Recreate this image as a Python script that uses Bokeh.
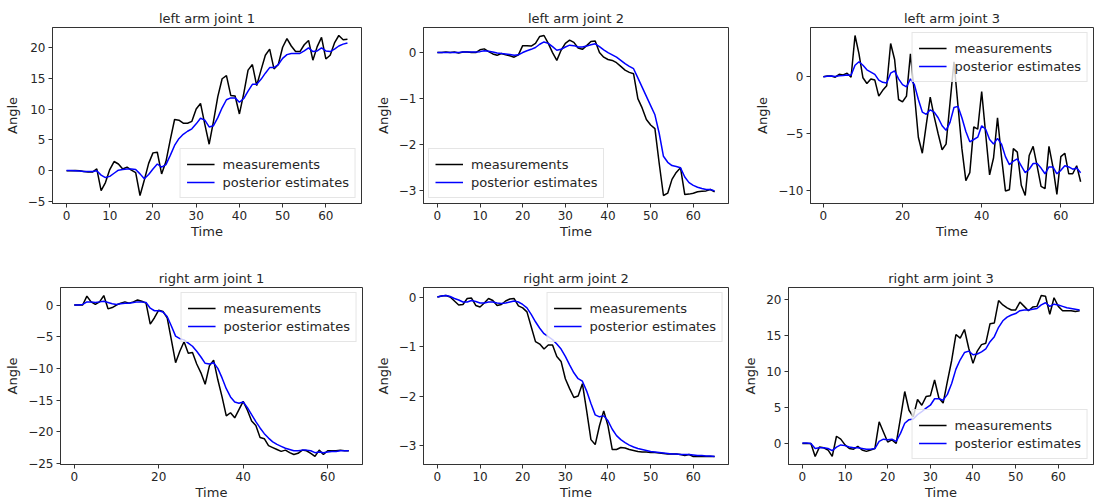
from bokeh.plotting import figure
from bokeh.layouts import column, row
from bokeh.models import Range1d, FixedTicker
from bokeh.embed import file_html
from bokeh.resources import INLINE

time = list(range(66))

titles = ["left arm joint 1", "left arm joint 2", "left arm joint 3",
          "right arm joint 1", "right arm joint 2", "right arm joint 3"]
series_labels = ["measurements", "posterior estimates"]
x_label = "Time"
y_label = "Angle"

la1_meas = [0, 0, 0.05, 0, -0.1, -0.2, -0.2, 0.3, -3.2, -1.9,
            0.2, 1.5, 1.1, 0.3, 0.6, 0.1, -0.3, -4.0, -1.5, 1.2,
            2.9, 3.0, -0.5, 1.5, 5.0, 8.3, 8.2, 7.7, 7.7, 8.0,
            10.0, 10.9, 7.5, 4.3, 8.0, 12.0, 14.9, 15.4, 12.2, 12.1,
            9.2, 12.5, 16.3, 17.2, 13.8, 16.3, 18.7, 19.7, 16.5, 17.2,
            20.0, 21.4, 20.2, 19.3, 19.3, 20.4, 21.1, 17.9, 20.1, 21.6,
            18.1, 18.7, 20.7, 21.9, 21.2, 21.3]
la1_post = [0.05, 0.05, 0, -0.05, -0.1, -0.1, -0.1, 0, -0.7, -1.1,
            -0.9, -0.4, 0.1, 0.2, 0.3, 0.3, 0.2, -0.5, -1.3, -0.6,
            0.3, 1.1, 0.6, 1.0, 2.5, 4.1, 5.2, 5.9, 6.4, 6.8,
            7.6, 8.5, 8.2, 7.1, 7.3, 8.6, 10.2, 11.5, 11.8, 11.8,
            11.1, 11.7, 12.9, 14.0, 14.0, 14.8, 15.8, 16.7, 16.7, 17.2,
            18.2, 18.8, 19.0, 19.0, 19.0, 19.4, 19.9, 19.3, 19.4, 19.9,
            19.4, 19.3, 19.7, 20.2, 20.5, 20.7]

la2_meas = [0, 0, 0.01, 0, 0.01, -0.01, 0.01, 0.01, 0, 0,
            0.06, 0.08, 0.02, -0.03, -0.06, -0.02, -0.05, -0.07, -0.1, -0.05,
            0.15, 0.15, 0.14, 0.2, 0.35, 0.37, 0.2, 0.0, -0.17, 0.05,
            0.2, 0.27, 0.22, 0.1, 0.07, 0.15, 0.24, 0.25, 0.0, -0.1,
            -0.15, -0.17, -0.22, -0.3, -0.38, -0.43, -0.46, -1.0, -1.2, -1.45,
            -1.57, -1.65, -2.4, -3.1, -3.05, -2.75, -2.6, -2.5, -3.08, -3.07,
            -3.05, -3.02, -3.01, -3.0, -2.97, -3.02]
la2_post = [0, 0, 0, 0, 0, 0, 0.01, 0.01, 0.01, 0.01,
            0.02, 0.04, 0.03, 0.01, -0.01, -0.02, -0.03, -0.04, -0.06, -0.05,
            0.0, 0.04, 0.07, 0.11, 0.18, 0.23, 0.2, 0.13, 0.05, 0.07,
            0.12, 0.16, 0.15, 0.12, 0.12, 0.14, 0.17, 0.19, 0.13, 0.06,
            0.0, -0.05, -0.1, -0.17, -0.24, -0.3, -0.35, -0.55, -0.75, -0.95,
            -1.15, -1.35, -1.75, -2.25, -2.38, -2.45, -2.47, -2.5, -2.7, -2.82,
            -2.88, -2.92, -2.95, -2.97, -2.97, -3.0]

la3_meas = [0, 0.05, 0.05, -0.05, 0.2, 0.15, 0.3, -0.05, 3.6, 2.0,
            -0.1, -0.6, -0.2, -0.3, -1.7, -1.2, -0.8, 2.9, 1.5, -2.0,
            -2.2, -1.7, 2.0, -1.5, -5.3, -6.7, -4.2, -1.8, -3.5, -5.0,
            -6.4, -5.9, -2.3, 1.3, -2.5, -6.3, -9.1, -8.4, -4.4, -4.6,
            -1.3, -5.0, -8.6, -7.1, -3.6, -7.0, -10.0, -9.9, -6.3, -6.6,
            -9.5, -10.4, -6.9, -6.1, -7.8, -9.6, -9.8, -6.1, -7.9, -10.3,
            -7.0, -6.7, -8.5, -8.5, -7.8, -9.2]
la3_post = [0, 0.03, 0.05, 0.02, 0.07, 0.1, 0.15, 0.12, 1.0, 1.3,
            1.0, 0.6, 0.4, 0.2, -0.3, -0.5, -0.55, 0.3, 0.5, -0.2,
            -0.7, -0.9, -0.2, -0.7, -2.0, -3.1, -3.3, -2.9, -3.1, -3.6,
            -4.3, -4.7, -4.0, -2.7, -2.6, -3.6, -4.8, -5.7, -5.5, -5.3,
            -4.3, -4.6, -5.5, -5.9, -5.4, -5.9, -7.0, -7.7, -7.4, -7.2,
            -7.8, -8.4, -8.1, -7.6, -7.6, -8.0, -8.5, -7.9, -7.9, -8.5,
            -8.2, -7.8, -7.9, -8.1, -8.0, -8.4]

ra1_meas = [0, 0, 0, 1.4, 0.5, 0.1, 0.5, 1.5, -0.6, -0.4,
            0.0, 0.3, 0.5, 0.3, 0.5, 0.8, 0.6, 0.3, -3.0, -2.0,
            -0.8, -1.0, -2.0, -5.5, -9.1, -7.3, -5.8, -7.6, -7.5, -9.3,
            -10.7, -12.5, -9.6, -8.7, -11.8, -14.5, -17.5, -17.0, -17.8, -16.5,
            -15.2, -16.6, -18.3, -19.0, -20.9, -21.1, -22.2, -22.5, -22.8, -23.1,
            -22.9, -23.3, -23.6, -23.4, -22.9, -23.0, -23.4, -23.9, -22.9, -23.6,
            -23.0, -23.0, -23.0, -22.9, -23.0, -23.0]
ra1_post = [0, 0, 0.1, 0.5, 0.5, 0.4, 0.5, 0.6, 0.4, 0.2,
            0.1, 0.2, 0.3, 0.3, 0.4, 0.5, 0.5, 0.4, -0.5, -0.9,
            -0.9, -1.1, -1.8, -3.3, -4.9, -5.3, -5.5, -6.0, -6.5, -7.3,
            -8.2, -9.2, -9.3, -9.1, -10.0, -11.5, -13.2, -14.5, -15.3, -15.5,
            -15.3, -16.2, -17.3, -18.4, -19.4, -20.3, -21.0, -21.6, -22.0, -22.3,
            -22.6, -22.8, -23.0, -23.0, -22.9, -22.9, -23.0, -23.3, -23.2, -23.3,
            -23.2, -23.1, -23.1, -23.0, -23.0, -23.0]

ra2_meas = [0, 0.02, 0.03, 0.0, -0.08, -0.16, -0.15, -0.03, -0.02, -0.17,
            -0.2, -0.12, -0.03, -0.07, -0.17, -0.15, -0.08, -0.04, -0.03, -0.18,
            -0.22, -0.3, -0.6, -0.9, -0.95, -1.05, -0.97, -0.97, -1.2, -1.3,
            -1.65, -1.85, -2.03, -2.0, -1.75, -2.3, -2.88, -2.98, -2.6, -2.3,
            -2.6, -3.08, -3.08, -3.04, -3.05, -3.08, -3.1, -3.12, -3.13, -3.13,
            -3.14, -3.14, -3.15, -3.16, -3.17, -3.17, -3.17, -3.18, -3.2, -3.18,
            -3.22, -3.22, -3.22, -3.22, -3.22, -3.22]
ra2_post = [0, 0.02, 0.03, 0.01, -0.03, -0.06, -0.1, -0.1, -0.07, -0.09,
            -0.12, -0.12, -0.1, -0.1, -0.12, -0.13, -0.12, -0.1, -0.08, -0.1,
            -0.15, -0.22, -0.35, -0.5, -0.63, -0.74, -0.8, -0.86, -0.95, -1.05,
            -1.2, -1.37, -1.53, -1.65, -1.7, -1.9, -2.15, -2.38, -2.42, -2.4,
            -2.5, -2.67, -2.8, -2.88, -2.94, -2.99, -3.03, -3.06, -3.08, -3.1,
            -3.12, -3.13, -3.14, -3.15, -3.16, -3.17, -3.17, -3.18, -3.18, -3.18,
            -3.19, -3.2, -3.2, -3.21, -3.21, -3.22]

ra3_meas = [0, 0, 0, -1.8, -0.5, -0.6, -0.9, -1.8, 1.0, 0.6,
            -0.2, -0.7, -0.8, -0.4, -0.9, -1.1, -0.9, -0.7, 3.0, 1.6,
            0.2, 0.5, 0.0, 3.5, 7.2, 4.6, 3.7, 6.1, 5.3, 6.5,
            6.6, 8.8, 6.3, 5.6, 8.6, 11.5, 15.1, 14.6, 15.8, 13.2,
            11.1, 12.8, 13.7, 13.9, 16.6, 16.7, 19.8, 19.2, 18.8, 18.5,
            18.5, 19.6, 19.0, 18.4, 18.9, 19.0, 20.5, 20.4, 17.9, 20.2,
            19.0, 18.4, 18.4, 18.4, 18.3, 18.4]
ra3_post = [0.05, 0.05, 0, -0.7, -0.6, -0.6, -0.7, -1.0, -0.5, -0.2,
            -0.3, -0.5, -0.6, -0.6, -0.7, -0.8, -0.8, -0.7, 0.3, 0.6,
            0.5, 0.6, 0.3, 1.4, 2.8, 3.3, 3.4, 4.0, 4.4, 4.9,
            5.3, 6.2, 6.2, 6.0, 6.8, 8.3, 10.3, 11.6, 12.6, 12.8,
            12.3, 12.4, 12.7, 13.1, 14.1, 14.8, 16.1, 17.0, 17.5, 17.8,
            18.0, 18.4, 18.5, 18.5, 18.6, 18.7, 19.2, 19.5, 19.0, 19.3,
            19.2, 19.0, 18.8, 18.7, 18.6, 18.5]

x_ticks_10 = [0, 10, 20, 30, 40, 50, 60]
x_ticks_20 = [0, 20, 40, 60]
y_ticks_la1 = [-5, 0, 5, 10, 15, 20]
y_ticks_la2 = [-3, -2, -1, 0]
y_ticks_la3 = [-10, -5, 0]
y_ticks_ra1 = [-25, -20, -15, -10, -5, 0]
y_ticks_ra2 = [-3, -2, -1, 0]
y_ticks_ra3 = [0, 5, 10, 15, 20]

FONT = "DejaVu Sans"
TXT = "#262626"


def pad_range(values):
    lo, hi = min(values), max(values)
    span = hi - lo
    return Range1d(lo - 0.05 * span, hi + 0.05 * span)


def tick_text(v):
    return ("\u2212" + str(abs(v))) if v < 0 else str(v)


def make_plot(title, meas, post, xt, yt, loc, w, h, bl, br, bt, bb):
    p = figure(width=w, height=h, output_backend="svg", toolbar_location=None,
               x_range=pad_range(time), y_range=pad_range(meas + post),
               min_border_left=bl, min_border_right=br,
               min_border_top=bt, min_border_bottom=bb,
               background_fill_color="white", border_fill_color="white")
    p.title.text = title
    p.title.align = "center"
    p.title.text_font = FONT
    p.title.text_font_size = "13px"
    p.title.text_font_style = "normal"
    p.title.text_color = TXT
    p.title.standoff = 3
    p.grid.visible = False
    p.outline_line_color = "#333333"
    p.outline_line_width = 1

    p.line(time, meas, color="black", line_width=1.5, legend_label=series_labels[0])
    p.line(time, post, color="#0000ff", line_width=1.5, legend_label=series_labels[1])

    p.xaxis.ticker = FixedTicker(ticks=xt)
    p.yaxis.ticker = FixedTicker(ticks=yt)
    p.xaxis.major_label_overrides = {v: tick_text(v) for v in xt}
    p.yaxis.major_label_overrides = {v: tick_text(v) for v in yt}
    p.xaxis.axis_label = x_label
    p.yaxis.axis_label = y_label
    for ax in (p.xaxis, p.yaxis):
        ax.axis_label_text_font = FONT
        ax.axis_label_text_font_size = "13px"
        ax.axis_label_text_font_style = "normal"
        ax.axis_label_text_color = TXT
        ax.major_label_text_font = FONT
        ax.major_label_text_font_size = "12px"
        ax.major_label_text_color = TXT
        ax.minor_tick_line_color = None
        ax.major_tick_in = 0
        ax.major_tick_out = 4
        ax.major_tick_line_color = "#333333"
        ax.axis_line_color = "#333333"
        ax.major_label_standoff = 3
    p.xaxis.axis_label_standoff = 1
    p.yaxis.axis_label_standoff = 5

    lg = p.legend[0]
    lg.location = loc
    lg.margin = 5
    lg.padding = 6
    lg.spacing = 0
    lg.glyph_width = 28
    lg.glyph_height = 18
    lg.label_height = 18
    lg.label_standoff = 8
    lg.label_text_font = FONT
    lg.label_text_font_size = "13px"
    lg.label_text_color = TXT
    lg.border_line_color = "#cccccc"
    lg.border_line_width = 1
    lg.background_fill_alpha = 0.8
    return p


f1 = make_plot(titles[0], la1_meas, la1_post, x_ticks_10, y_ticks_la1, "bottom_right", 372, 250, 52, 11, 27, 47)
f2 = make_plot(titles[1], la2_meas, la2_post, x_ticks_10, y_ticks_la2, "bottom_left", 368, 250, 48, 12, 27, 47)
f3 = make_plot(titles[2], la3_meas, la3_post, x_ticks_20, y_ticks_la3, "top_right", 354, 250, 70, 1, 27, 47)
f4 = make_plot(titles[3], ra1_meas, ra1_post, x_ticks_20, y_ticks_ra1, "top_right", 372, 253, 60, 10, 37, 39)
f5 = make_plot(titles[4], ra2_meas, ra2_post, x_ticks_10, y_ticks_ra2, "top_right", 368, 253, 48, 12, 37, 39)
f6 = make_plot(titles[5], ra3_meas, ra3_post, x_ticks_10, y_ticks_ra3, "bottom_right", 354, 253, 47, 1, 37, 39)

layout = column(row(f1, f2, f3), row(f4, f5, f6))

open("out.html", "w").write(file_html(layout, INLINE))
